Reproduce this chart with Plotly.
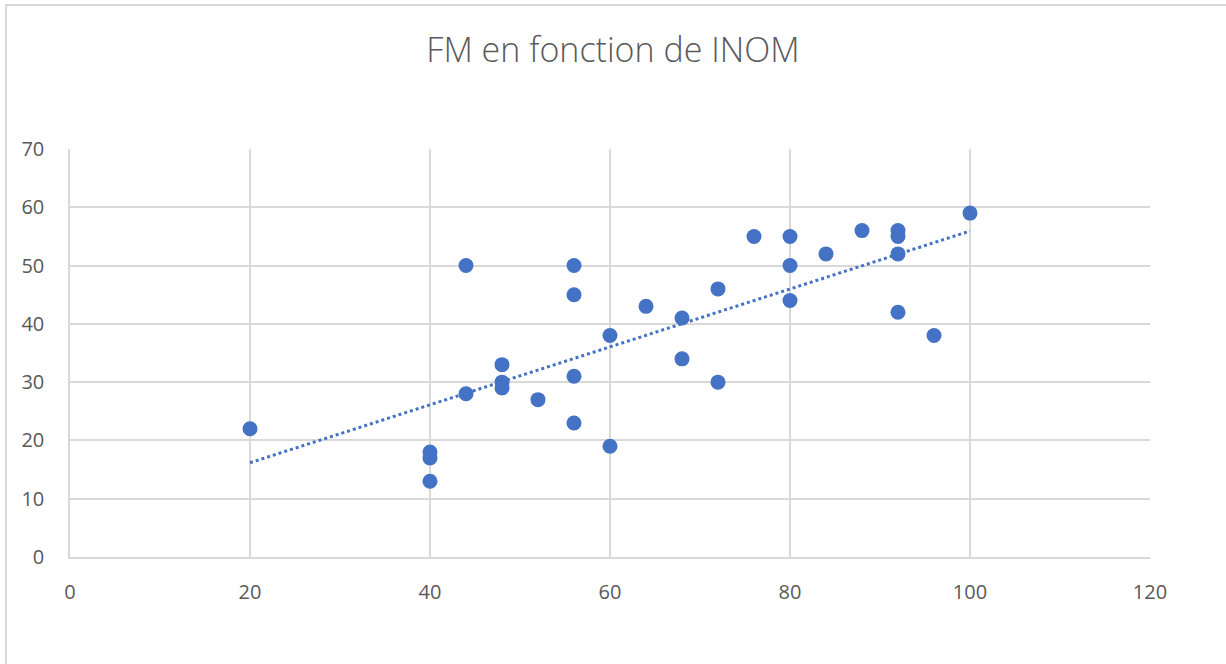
import numpy as np
import plotly.graph_objects as go

inom = [20, 40, 40, 40, 44, 44, 48, 48, 48, 52, 56, 56, 56, 56, 60, 60, 64, 68, 68,
        72, 72, 76, 80, 80, 80, 84, 88, 92, 92, 92, 92, 96, 100]
fm = [22, 18, 17, 13, 50, 28, 33, 30, 29, 27, 50, 45, 31, 23, 38, 19, 43, 41, 34,
      46, 30, 55, 55, 50, 44, 52, 56, 56, 55, 52, 42, 38, 59]

x_ticks = [0, 20, 40, 60, 80, 100, 120]
y_ticks = [0, 10, 20, 30, 40, 50, 60, 70]

blue = "#4472C4"
grey_txt = "#595959"
grid = "#d9d9d9"

slope, intercept = np.polyfit(inom, fm, 1)
tx = np.array([min(inom), max(inom)])
ty = slope * tx + intercept

fig = go.Figure()
fig.add_trace(go.Scatter(x=tx, y=ty, mode="lines",
                         line=dict(color=blue, width=3, dash="dot"),
                         hoverinfo="skip", showlegend=False))
fig.add_trace(go.Scatter(x=inom, y=fm, mode="markers",
                         marker=dict(color=blue, size=15, line=dict(width=0)),
                         showlegend=False))

W, H = 1226, 664
l, r, t, b = 70, 76, 149, 107
pw, ph = W - l - r, H - t - b

fig.update_layout(
    width=W, height=H,
    margin=dict(l=l, r=r, t=t, b=b),
    paper_bgcolor="white", plot_bgcolor="white",
    title=dict(text="FM en fonction de INOM", x=0.5, xanchor="center",
               y=1 - 50 / H, yanchor="middle", yref="container",
               font=dict(family="Open Sans", size=34, color=grey_txt, weight=300)),
    font=dict(family="Open Sans", size=20, color=grey_txt),
    xaxis=dict(range=[0, 120], tickvals=x_ticks, showgrid=True, gridcolor=grid,
               gridwidth=1.5, zeroline=False, showline=True, linecolor=grid,
               linewidth=1.5, mirror=False, ticks="", ticklabelstandoff=16),
    yaxis=dict(range=[0, 70], tickvals=y_ticks, showgrid=True, gridcolor=grid,
               gridwidth=1.5, zeroline=False, showline=True, linecolor=grid,
               linewidth=1.5, ticks="", ticklabelstandoff=20),
    shapes=[dict(type="rect", xref="paper", yref="paper",
                 x0=(6 - l) / pw, x1=(W + 20 - l) / pw,
                 y0=(H - b - (H + 20)) / ph, y1=(H - b - 5) / ph,
                 line=dict(color="#d9d9d9", width=2), layer="below")],
)

fig.write_html("out.html", config={"displayModeBar": False},
               post_script="document.body.style.margin='0';document.body.style.overflow='hidden';")
